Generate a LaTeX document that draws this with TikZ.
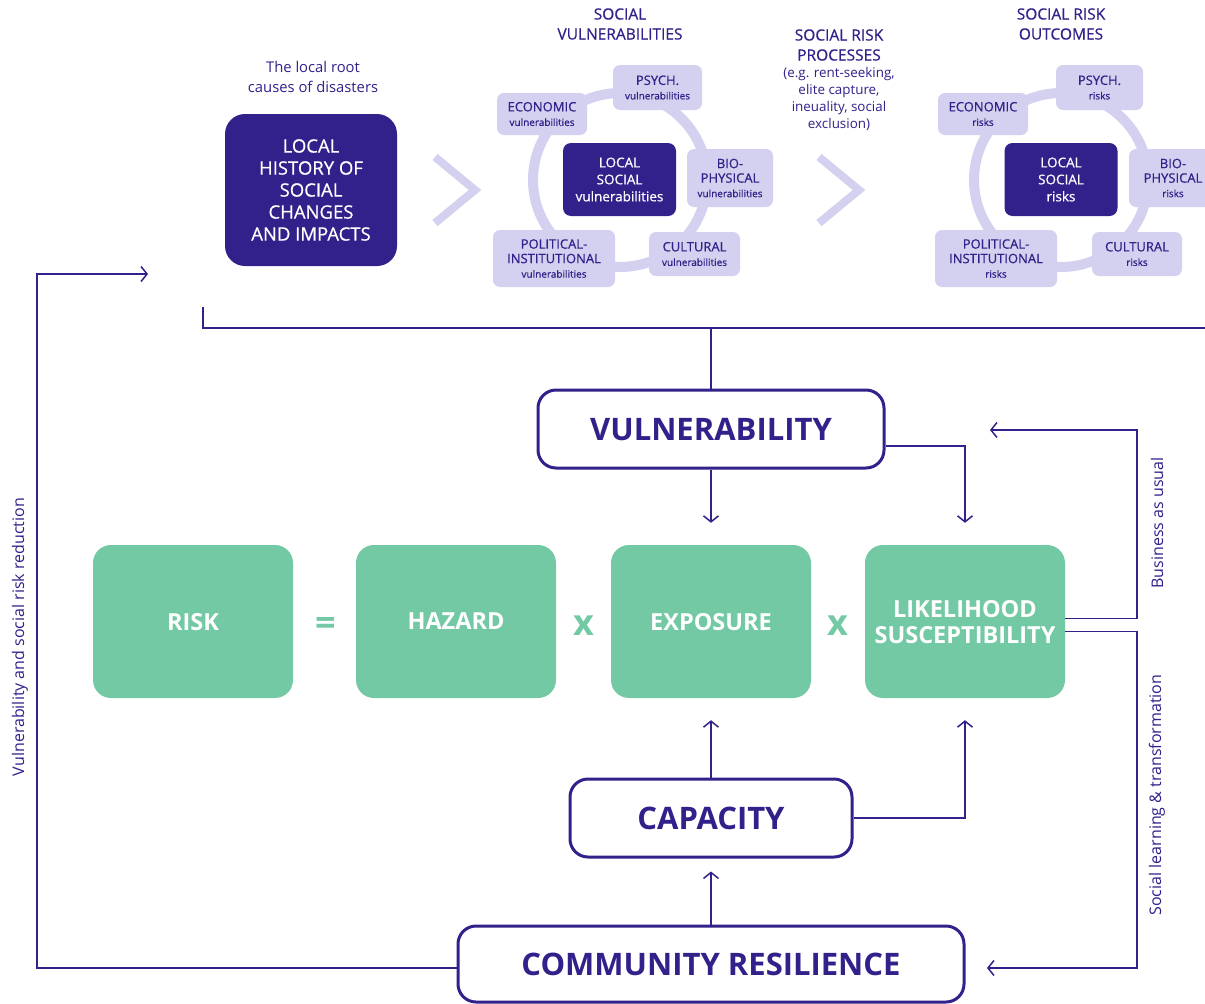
\documentclass[tikz,border=0pt]{standalone}
\usepackage{fontspec}
\setmainfont{Open Sans}
\newfontfamily\medfont{Open Sans}[FakeBold=0.6]
\usetikzlibrary{arrows.meta}

\definecolor{ink}{HTML}{32218A}
\definecolor{lav}{HTML}{D3D1EF}
\definecolor{mint}{HTML}{72C9A4}

\newcommand{\sm}[1]{{\fontsize{10}{11}\selectfont #1}}

\tikzset{
  darkbox/.style={fill=ink, text=white, rounded corners=8pt, align=center, inner sep=0pt,
    font=\medfont\fontsize{13.5}{17}\selectfont},
  lavbox/.style={fill=lav, text=ink, rounded corners=7pt, align=center, inner sep=0pt,
    font=\medfont\fontsize{13}{14.5}\selectfont},
  ring/.style={draw=lav, line width=10pt},
  chevron/.style={draw=lav, line width=8pt},
  greenbox/.style={fill=mint, text=white, rounded corners=18pt, minimum width=200pt,
    minimum height=153pt, inner sep=0pt, align=center, text depth=0pt,
    font=\fontsize{23.5}{26}\selectfont\bfseries},
  keybox/.style={draw=ink, fill=white, text=ink, line width=3pt, rounded corners=18pt,
    inner sep=0pt, text depth=0pt, font=\fontsize{31}{34}\selectfont\bfseries},
  op/.style={text=mint, font=\fontsize{36}{36}\selectfont\bfseries},
  title/.style={text=ink, align=center, font=\medfont\fontsize{15.5}{20}\selectfont},
  side/.style={text=ink, rotate=90, font=\fontsize{16}{17}\selectfont},
  conn/.style={draw=ink, line width=1.5pt, -{Straight Barb[length=6pt,width=15pt]}},
  line/.style={draw=ink, line width=1.5pt}
}

\begin{document}
\begin{tikzpicture}[x=1pt, y=-1pt]
  \clip (0,0) rectangle (1205,1004);
  \fill[white] (0,0) rectangle (1205,1004);

  % root causes
  \node[title, font=\fontsize{14.8}{20}\selectfont] (roottxt) at (313,77) {The local root\\causes of disasters};
  \node[darkbox, rounded corners=20pt, minimum width=172pt, minimum height=152pt,
    font=\medfont\fontsize{18.5}{22}\selectfont] (hist) at (311,190)
    {LOCAL\\HISTORY OF\\SOCIAL\\CHANGES\\AND IMPACTS};
  \draw[chevron] (435,157) -- (475,190) -- (435,223);

  % social vulnerabilities
  \node[title] (vultitle) at (620,24) {SOCIAL\\VULNERABILITIES};
  \draw[ring] (620,180) circle (87pt);
  \node[darkbox, minimum width=113pt, minimum height=73pt] (locvul) at (619.5,179.5)
    {LOCAL\\SOCIAL\\vulnerabilities};
  \node[lavbox, minimum width=90pt, minimum height=42pt] (econvul) at (542,114) {ECONOMIC\\\sm{vulnerabilities}};
  \node[lavbox, minimum width=89pt, minimum height=45pt] (psyvul) at (657.5,87.5) {PSYCH.\\\sm{vulnerabilities}};
  \node[lavbox, minimum width=86pt, minimum height=58pt] (biovul) at (730,178) {BIO-\\PHYSICAL\\\sm{vulnerabilities}};
  \node[lavbox, minimum width=91pt, minimum height=44pt] (cultvul) at (694.5,254) {CULTURAL\\\sm{vulnerabilities}};
  \node[lavbox, minimum width=122pt, minimum height=57pt] (polvul) at (554,258.5) {POLITICAL-\\INSTITUTIONAL\\\sm{vulnerabilities}};

  % processes
  \node[title] (proctitle) at (839,45) {SOCIAL RISK\\PROCESSES};
  \node[title, font=\fontsize{13.4}{17}\selectfont] (proctxt) at (839,99)
    {(e.g. rent-seeking,\\elite capture,\\ineuality, social\\exclusion)};
  \draw[chevron] (819,157) -- (859,190) -- (819,223);

  % social risk outcomes
  \node[title] (risktitle) at (1061,24) {SOCIAL RISK\\OUTCOMES};
  \draw[ring] (1061,180) circle (87pt);
  \node[darkbox, minimum width=113pt, minimum height=73pt] (locrisk) at (1061,179.5)
    {LOCAL\\SOCIAL\\risks};
  \node[lavbox, minimum width=90pt, minimum height=42pt] (econrisk) at (983,114) {ECONOMIC\\\sm{risks}};
  \node[lavbox, minimum width=87pt, minimum height=45pt] (psyrisk) at (1099.5,87.5) {PSYCH.\\\sm{risks}};
  \node[lavbox, minimum width=88pt, minimum height=58pt] (biorisk) at (1173,178) {BIO-\\PHYSICAL\\\sm{risks}};
  \node[lavbox, minimum width=90pt, minimum height=44pt] (cultrisk) at (1137,254) {CULTURAL\\\sm{risks}};
  \node[lavbox, minimum width=122pt, minimum height=57pt] (polrisk) at (996,258.5) {POLITICAL-\\INSTITUTIONAL\\\sm{risks}};

  % risk equation
  \node[keybox, minimum width=346pt, minimum height=78pt] (vuln) at (711,429) {VULNERABILITY};
  \node[greenbox] (risk) at (193,621.5) {RISK};
  \node[greenbox] (hazard) at (456,621.5) {HAZARD};
  \node[greenbox] (expo) at (711,621.5) {EXPOSURE};
  \node[greenbox] (like) at (965,621.5) {LIKELIHOOD\\SUSCEPTIBILITY};
  \node[op] (eq) at (326,626) {=};
  \node[op] (times1) at (584,626) {x};
  \node[op] (times2) at (838,626) {x};
  \node[keybox, minimum width=282pt, minimum height=78pt] (cap) at (711,818) {CAPACITY};
  \node[keybox, minimum width=506pt, minimum height=76pt] (comm) at (711,964) {COMMUNITY RESILIENCE};

  % connectors
  \coordinate (brL) at (203,307);
  \coordinate (brR) at (1210,328);
  \coordinate (histin) at (148,274);
  \coordinate (buain) at (990,430);
  \coordinate (sltin) at (987,968);
  \draw[line] (brL) |- (brR);
  \draw[line] (vuln.north) -- (vuln.north |- brR);
  \draw[conn, shorten >=22pt] (vuln.south) -- (expo.north);
  \draw[conn, shorten >=22pt] ([yshift=-17pt]vuln.east) -| (like.north);
  \draw[conn, shorten >=22pt] (cap.north) -- (expo.south);
  \draw[conn, shorten >=22pt] (cap.east) -| (like.south);
  \draw[conn, shorten >=13pt] (comm.north) -- (cap.south);
  \draw[conn] ([yshift=-4pt]comm.west) -- (37,968) |- (histin);
  \draw[conn] ([yshift=3pt]like.east) -- (1137,618.5) |- (buain);
  \draw[conn] ([yshift=-10pt]like.east) -- (1137,631.5) |- (sltin);

  % loop labels
  \node[side] (redlbl) at (20,637) {Vulnerability and social risk reduction};
  \node[side] (bualbl) at (1157,523) {Business as usual};
  \node[side] (sltlbl) at (1157,795) {Social learning \& transformation};
\end{tikzpicture}
\end{document}
